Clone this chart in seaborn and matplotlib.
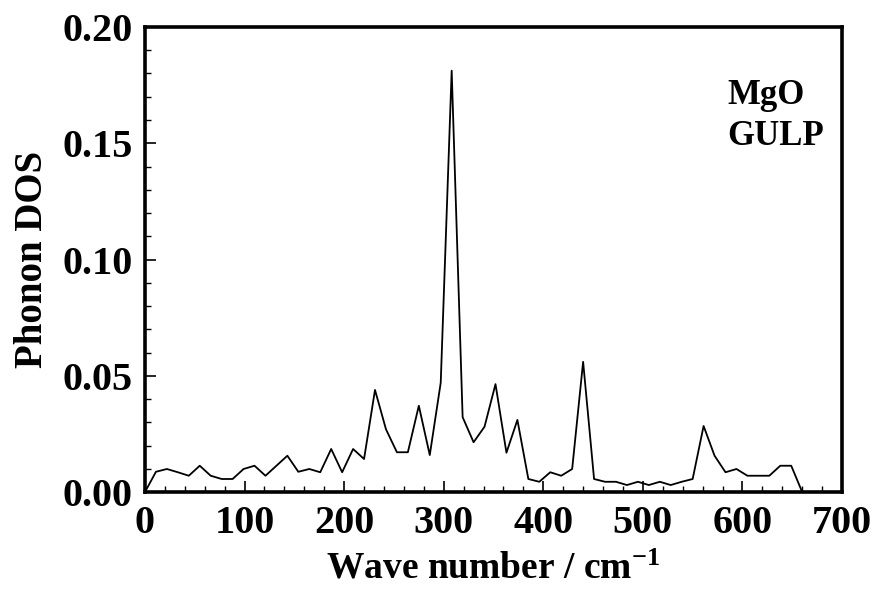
import matplotlib
matplotlib.use("Agg")
import matplotlib.pyplot as plt
from matplotlib.ticker import MultipleLocator, FormatStrFormatter
import pandas as pd
import seaborn as sns

# phonon DOS, 11 cm-1 spacing
wave_number = [i * 11 for i in range(61)]
dos = [
    0.0, 0.0087, 0.0099, 0.0085, 0.0070, 0.0113, 0.0070, 0.0056, 0.0056, 0.0099,
    0.0113, 0.0070, 0.0113, 0.0156, 0.0087, 0.0099, 0.0085, 0.0185, 0.0085, 0.0185,
    0.0142, 0.0439, 0.0270, 0.0171, 0.0171, 0.0371, 0.0159, 0.0470, 0.1812, 0.0322,
    0.0214, 0.0281, 0.0464, 0.0169, 0.0310, 0.0056, 0.0044, 0.0085, 0.0070, 0.0099,
    0.0560, 0.0056, 0.0044, 0.0044, 0.0030, 0.0044, 0.0030, 0.0044, 0.0030, 0.0044,
    0.0056, 0.0284, 0.0156, 0.0085, 0.0099, 0.0070, 0.0070, 0.0070, 0.0113, 0.0113,
    0.0,
]
x_ticks = [0, 100, 200, 300, 400, 500, 600, 700]
y_ticks = [0.00, 0.05, 0.10, 0.15, 0.20]

sns.set_theme(style="ticks")
plt.rcParams["font.family"] = ["Liberation Serif", "DejaVu Serif"]
plt.rcParams["font.weight"] = "bold"
plt.rcParams["text.color"] = "black"
plt.rcParams["axes.labelcolor"] = "black"
plt.rcParams["xtick.color"] = "black"
plt.rcParams["ytick.color"] = "black"
plt.rcParams["mathtext.fontset"] = "custom"
plt.rcParams["mathtext.rm"] = "Liberation Serif:bold"
plt.rcParams["mathtext.bf"] = "Liberation Serif:bold"
plt.rcParams["mathtext.default"] = "rm"

df = pd.DataFrame({"wave": wave_number, "dos": dos})

fig, ax = plt.subplots(figsize=(8.75, 5.92), dpi=100)
fig.subplots_adjust(left=0.1657, right=0.9623, bottom=0.1689, top=0.9544)

sns.lineplot(data=df, x="wave", y="dos", ax=ax, color="black", linewidth=1.3, sort=False)

ax.set_xlim(0, 700)
ax.set_ylim(0, 0.20)
ax.set_xticks(x_ticks)
ax.set_yticks(y_ticks)
ax.xaxis.set_minor_locator(MultipleLocator(20))
ax.yaxis.set_minor_locator(MultipleLocator(0.01))
ax.yaxis.set_major_formatter(FormatStrFormatter("%.2f"))

for side in ["left", "right", "top", "bottom"]:
    ax.spines[side].set_visible(True)
    ax.spines[side].set_linewidth(2.6)
    ax.spines[side].set_color("black")

ax.tick_params(which="both", direction="in", top=False, right=False, color="black")
ax.tick_params(which="major", length=8, width=1.2, labelsize=29, pad=9)
ax.tick_params(which="minor", length=4, width=1.0)
for lab in ax.get_xticklabels() + ax.get_yticklabels():
    lab.set_fontweight("bold")

ax.set_xlabel("Wave number / cm$^{-1}$", fontsize=27, fontweight="bold", labelpad=7)
ax.set_ylabel("Phonon DOS", fontsize=28, fontweight="bold", labelpad=8)

ax.text(0.835, 0.888, "MgO\nGULP", transform=ax.transAxes, ha="left", va="top",
        fontsize=25, fontweight="bold", linespacing=1.3)

fig.savefig("out.png", dpi=100)
